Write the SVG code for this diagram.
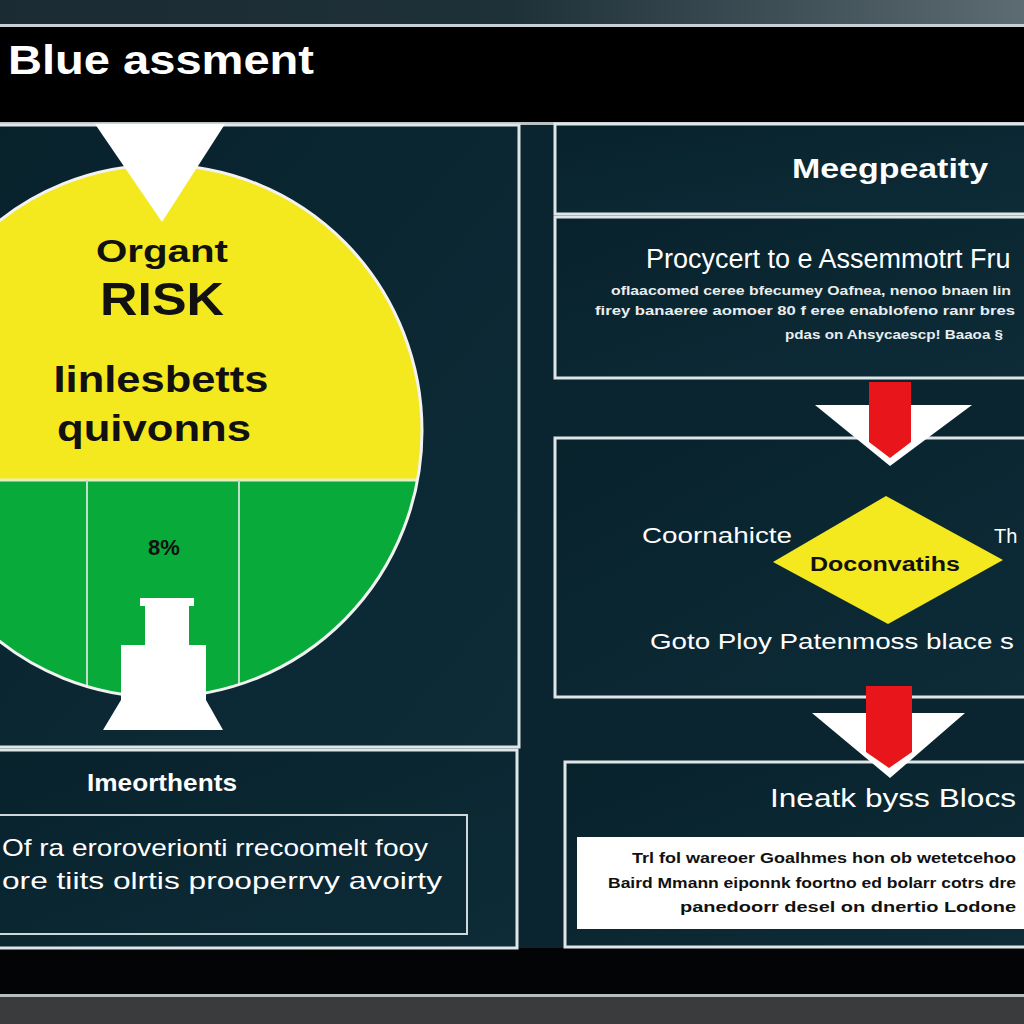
<svg xmlns="http://www.w3.org/2000/svg" width="1024" height="1024" viewBox="0 0 1024 1024">
<defs>
<linearGradient id="topband" x1="0" y1="0" x2="1" y2="0">
<stop offset="0" stop-color="#1b2b33"/><stop offset="0.5" stop-color="#1e3038"/><stop offset="1" stop-color="#5d6b72"/>
</linearGradient>
<linearGradient id="panel" x1="0" y1="0" x2="1" y2="1">
<stop offset="0" stop-color="#08222c"/><stop offset="1" stop-color="#0d2c38"/>
</linearGradient>
<clipPath id="circ"><ellipse cx="160" cy="431" rx="262" ry="266"/></clipPath>
</defs>
<style>
.box{fill:url(#panel);stroke:#dfe6e8;stroke-width:3}
.w{fill:#ffffff;font-family:"Liberation Sans",Arial,sans-serif;font-weight:bold}
.n{font-weight:normal}
.k{fill:#111111;font-family:"Liberation Sans",Arial,sans-serif;font-weight:bold}
.s{fill:#e8eef0;font-family:"Liberation Sans",Arial,sans-serif;font-weight:bold;font-size:12px}
.sk{fill:#111111;font-family:"Liberation Sans",Arial,sans-serif;font-weight:bold;font-size:14px}
</style>
<rect x="0" y="0" width="1024" height="1024" fill="#000"/>
<rect x="0" y="0" width="1024" height="25" fill="url(#topband)"/>
<rect x="0" y="24" width="1024" height="3" fill="#c9d0d3"/>
<rect x="0" y="995" width="1024" height="29" fill="#3a3b3c"/>
<rect x="0" y="994" width="1024" height="3" fill="#b8bec0"/>
<rect x="0" y="124" width="1024" height="824" fill="#0a2430"/>
<rect x="0" y="122" width="1024" height="3" fill="#b8c2c5"/>
<rect x="0" y="948" width="1024" height="46" fill="#020406"/>

<text class="w" x="8" y="74" font-size="40" textLength="306" lengthAdjust="spacingAndGlyphs">Blue assment</text>

<g id="left-panel">
<rect class="box" x="-5" y="125" width="524" height="622"/>
<g clip-path="url(#circ)">
<rect x="-110" y="160" width="540" height="320" fill="#f4e81f"/>
<rect x="-110" y="480" width="540" height="230" fill="#08aa3a"/>
<line x1="-110" y1="480" x2="430" y2="480" stroke="#e6f0c0" stroke-width="3"/>
<line x1="87" y1="480" x2="87" y2="700" stroke="#bfe0c8" stroke-width="2"/>
<line x1="239" y1="480" x2="239" y2="700" stroke="#bfe0c8" stroke-width="2"/>
</g>
<ellipse cx="160" cy="431" rx="262" ry="266" fill="none" stroke="#f2f2f2" stroke-width="3"/>
<polygon points="95,124 225,124 162,222" fill="#ffffff"/>
<rect x="140" y="598" width="54" height="8" fill="#ffffff"/>
<rect x="145" y="604" width="44" height="44" fill="#ffffff"/>
<rect x="121" y="645" width="85" height="56" fill="#ffffff"/>
<polygon points="121,700 206,700 223,730 103,730" fill="#ffffff"/>
<text class="k" x="162" y="262" font-size="32" text-anchor="middle" textLength="132" lengthAdjust="spacingAndGlyphs">Organt</text>
<text class="k" x="162" y="315" font-size="46" text-anchor="middle" textLength="124" lengthAdjust="spacingAndGlyphs">RISK</text>
<text class="k" x="161" y="392" font-size="36" text-anchor="middle" textLength="215" lengthAdjust="spacingAndGlyphs">Iinlesbetts</text>
<text class="k" x="154" y="441" font-size="36" text-anchor="middle" textLength="194" lengthAdjust="spacingAndGlyphs">quivonns</text>
<text class="k" x="164" y="555" font-size="22" text-anchor="middle" fill="#0d2a12">8%</text>
</g>

<g id="left-bottom">
<rect class="box" x="-5" y="750" width="522" height="198"/>
<text class="w" x="162" y="791" font-size="24" text-anchor="middle" textLength="150" lengthAdjust="spacingAndGlyphs">Imeorthents</text>
<rect x="-5" y="815" width="472" height="119" fill="none" stroke="#cfd8da" stroke-width="2"/>
<text class="w n" x="2" y="856" font-size="24" textLength="426" lengthAdjust="spacingAndGlyphs">Of ra eroroverionti rrecoomelt fooy</text>
<text class="w n" x="2" y="889" font-size="24" textLength="440" lengthAdjust="spacingAndGlyphs">ore tiits olrtis prooperrvy avoirty</text>
</g>

<g id="box-title">
<rect class="box" x="555" y="124" width="480" height="90"/>
<text class="w" x="890" y="178" font-size="28" text-anchor="middle" textLength="196" lengthAdjust="spacingAndGlyphs">Meegpeatity</text>
</g>

<g id="box-procedure">
<rect class="box" x="555" y="217" width="480" height="161"/>
<text class="w n" x="646" y="268" font-size="27">Procycert to e Assemmotrt Fru</text>
<text class="s" x="611" y="295" textLength="400" lengthAdjust="spacingAndGlyphs">oflaacomed ceree bfecumey Oafnea, nenoo bnaen lin</text>
<text class="s" x="595" y="315" textLength="420" lengthAdjust="spacingAndGlyphs">firey banaeree aomoer 80 f eree enablofeno ranr bres</text>
<text class="s" x="785" y="339" textLength="218" lengthAdjust="spacingAndGlyphs">pdas on Ahsycaescp! Baaoa §</text>
</g>

<g id="box-decision">
<rect class="box" x="555" y="438" width="480" height="259"/>
<polygon points="773,562 886,496 1003,560 888,624" fill="#f4e81f"/>
<text class="k" x="885" y="571" font-size="20" text-anchor="middle" textLength="150" lengthAdjust="spacingAndGlyphs">Doconvatihs</text>
<text class="w n" x="642" y="543" font-size="22" textLength="150" lengthAdjust="spacingAndGlyphs">Coornahicte</text>
<text class="w n" x="994" y="543" font-size="20">Th</text>
<text class="w n" x="650" y="649" font-size="22" textLength="364" lengthAdjust="spacingAndGlyphs">Goto Ploy Patenmoss blace s</text>
</g>

<g id="box-blocks">
<rect class="box" x="565" y="762" width="470" height="185"/>
<text class="w n" x="770" y="807" font-size="26" textLength="246" lengthAdjust="spacingAndGlyphs">Ineatk byss Blocs</text>
<rect x="577" y="837" width="460" height="92" fill="#ffffff"/>
<text class="sk" x="632" y="863" textLength="384" lengthAdjust="spacingAndGlyphs">Trl fol wareoer Goalhmes hon ob wetetcehoo</text>
<text class="sk" x="608" y="888" textLength="408" lengthAdjust="spacingAndGlyphs">Baird Mmann eiponnk foortno ed bolarr cotrs dre</text>
<text class="sk" x="680" y="912" textLength="336" lengthAdjust="spacingAndGlyphs">panedoorr desel on dnertio Lodone</text>
</g>

<g id="connectors">
<polygon points="815,405 972,405 890,466" fill="#ffffff"/>
<polygon points="869,382 911,382 911,442 890,458 869,442" fill="#e8161a"/>
<polygon points="812,713 965,713 890,778" fill="#ffffff"/>
<polygon points="866,686 912,686 912,752 889,768 866,752" fill="#e8161a"/>
</g>
</svg>
